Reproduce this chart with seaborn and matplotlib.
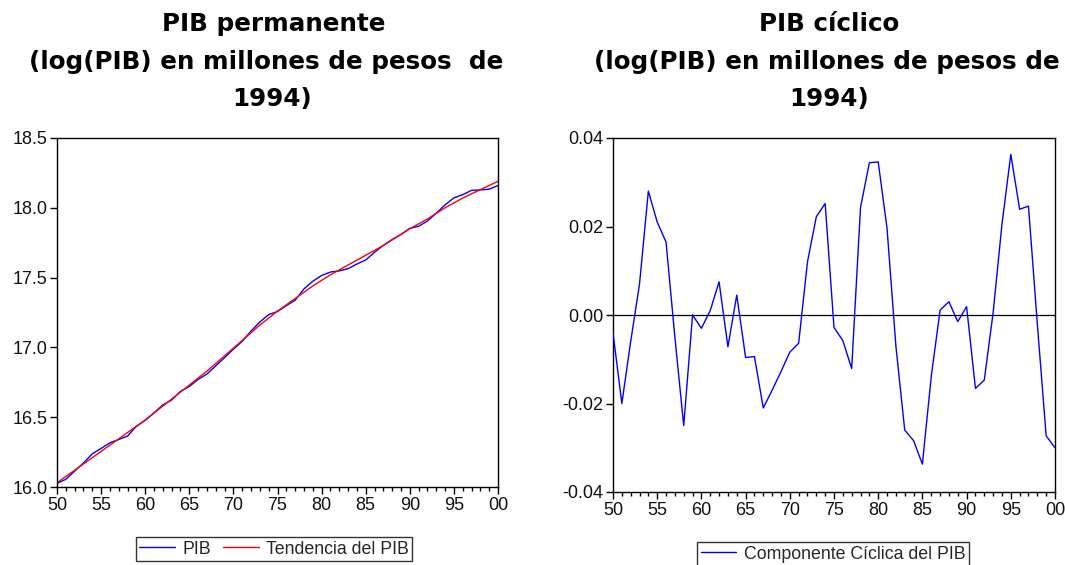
import matplotlib
matplotlib.use("Agg")
import matplotlib.pyplot as plt
from matplotlib.ticker import MultipleLocator, FuncFormatter
import seaborn as sns
import pandas as pd

years = list(range(1950, 2001))

pib = [16.026, 16.055, 16.114, 16.172, 16.238, 16.276, 16.317, 16.340, 16.365, 16.435,
       16.477, 16.531, 16.588, 16.623, 16.685, 16.720, 16.771, 16.809, 16.868, 16.927,
       16.987, 17.044, 17.117, 17.182, 17.235, 17.257, 17.299, 17.338, 17.419, 17.474,
       17.515, 17.540, 17.548, 17.564, 17.597, 17.626, 17.681, 17.731, 17.773, 17.809,
       17.852, 17.868, 17.905, 17.961, 18.021, 18.071, 18.094, 18.125, 18.128, 18.133,
       18.160]

tendencia = [16.030, 16.075, 16.120, 16.165, 16.210, 16.255, 16.300, 16.345, 16.390, 16.435,
             16.480, 16.530, 16.580, 16.630, 16.680, 16.730, 16.780, 16.830, 16.885, 16.940,
             16.995, 17.050, 17.105, 17.160, 17.210, 17.260, 17.305, 17.350, 17.395, 17.440,
             17.480, 17.520, 17.555, 17.590, 17.625, 17.660, 17.695, 17.730, 17.770, 17.810,
             17.850, 17.885, 17.920, 17.960, 18.000, 18.035, 18.070, 18.100, 18.130, 18.160,
             18.190]

ciclo = [-0.0040, -0.0200, -0.0060, 0.0070, 0.0280, 0.0210, 0.0165, -0.0050, -0.0250, 0.0000,
         -0.0030, 0.0010, 0.0075, -0.0072, 0.0045, -0.0096, -0.0094, -0.0210, -0.0170, -0.0128,
         -0.0084, -0.0064, 0.0120, 0.0222, 0.0252, -0.0028, -0.0058, -0.0121, 0.0243, 0.0344,
         0.0346, 0.0196, -0.0070, -0.0260, -0.0284, -0.0337, -0.0139, 0.0011, 0.0030, -0.0015,
         0.0019, -0.0166, -0.0147, 0.0005, 0.0205, 0.0363, 0.0239, 0.0246, -0.0020, -0.0273,
         -0.0300]

title_left = ["PIB permanente", "(log(PIB) en millones de pesos  de", "1994)"]
title_right = ["PIB cíclico", "(log(PIB) en millones de pesos de", "1994)"]

sns.set_style("ticks")
plt.rcParams['font.family'] = ['Liberation Sans', 'DejaVu Sans']

W, H = 1065, 565
fig = plt.figure(figsize=(W / 100, H / 100), dpi=100)

def box(x0, y0, x1, y1):
    return [x0 / W, 1 - y1 / H, (x1 - x0) / W, (y1 - y0) / H]

ax1 = fig.add_axes(box(57, 138, 498, 487))
ax2 = fig.add_axes(box(613, 138, 1055, 492))

df1 = pd.DataFrame({"year": years, "PIB": pib, "Tendencia del PIB": tendencia})
sns.lineplot(data=df1, x="year", y="PIB", ax=ax1, color="#0000ff", lw=1.0, label="PIB")
sns.lineplot(data=df1, x="year", y="Tendencia del PIB", ax=ax1, color="#ff0000", lw=1.0,
             label="Tendencia del PIB")

df2 = pd.DataFrame({"year": years, "ciclo": ciclo})
ax2.axhline(0, color="black", lw=0.9, zorder=1)
sns.lineplot(data=df2, x="year", y="ciclo", ax=ax2, color="#0000ff", lw=1.0,
             label="Componente Cíclica del PIB", zorder=3)

yr_fmt = FuncFormatter(lambda v, p: f"{int(round(v)) % 100:02d}")

for ax in (ax1, ax2):
    ax.set_xlim(1950, 2000)
    ax.xaxis.set_major_locator(MultipleLocator(5))
    ax.xaxis.set_minor_locator(MultipleLocator(1))
    ax.xaxis.set_major_formatter(yr_fmt)
    ax.set_xlabel("")
    ax.set_ylabel("")
    for s in ax.spines.values():
        s.set_visible(True)
        s.set_color("black")
        s.set_linewidth(1.0)
    ax.tick_params(axis="both", which="major", direction="out", length=5, width=1,
                   labelsize=13, color="black", labelcolor="#111111", pad=2)
    ax.tick_params(axis="x", which="minor", direction="out", length=3, width=1, color="black")
    ax.tick_params(axis="y", which="minor", left=False)
    ax.get_legend().remove()

ax1.set_ylim(16.0, 18.5)
ax1.yaxis.set_major_locator(MultipleLocator(0.5))
ax1.yaxis.set_major_formatter(FuncFormatter(lambda v, p: f"{v:.1f}"))

ax2.set_ylim(-0.04, 0.04)
ax2.yaxis.set_major_locator(MultipleLocator(0.02))
ax2.yaxis.set_major_formatter(FuncFormatter(lambda v, p: f"{v:.2f}"))

# Titles
tfont = dict(family=['DejaVu Sans'], fontweight='bold', fontsize=17.7,
             ha='center', va='baseline', color='black')
baselines = [31, 69, 106]
left_cx = [274, 266, 272]
right_cx = [829, 827, 829]
for txt, yb, cx in zip(title_left, baselines, left_cx):
    fig.text(cx / W, 1 - yb / H, txt, **tfont)
for txt, yb, cx in zip(title_right, baselines, right_cx):
    fig.text(cx / W, 1 - yb / H, txt, **tfont)

# Legends
h1, l1 = ax1.get_legend_handles_labels()
leg1 = fig.legend(h1, l1, loc="upper center", bbox_to_anchor=(274 / W, 1 - 537 / H),
                  ncol=2, frameon=True, fancybox=False, shadow=False, fontsize=12.8,
                  handlelength=2.0, handletextpad=0.4, columnspacing=0.7,
                  borderpad=0.2, borderaxespad=0.0)
leg1.get_frame().set_edgecolor("black")
leg1.get_frame().set_linewidth(1.0)

h2, l2 = ax2.get_legend_handles_labels()
leg2 = fig.legend(h2, l2, loc="upper center", bbox_to_anchor=(833 / W, 1 - 542 / H),
                  ncol=1, frameon=True, fancybox=False, shadow=False, fontsize=12.8,
                  handlelength=2.0, handletextpad=0.4,
                  borderpad=0.2, borderaxespad=0.0)
leg2.get_frame().set_edgecolor("black")
leg2.get_frame().set_linewidth(1.0)

fig.savefig("out.png", dpi=100, facecolor="white")
